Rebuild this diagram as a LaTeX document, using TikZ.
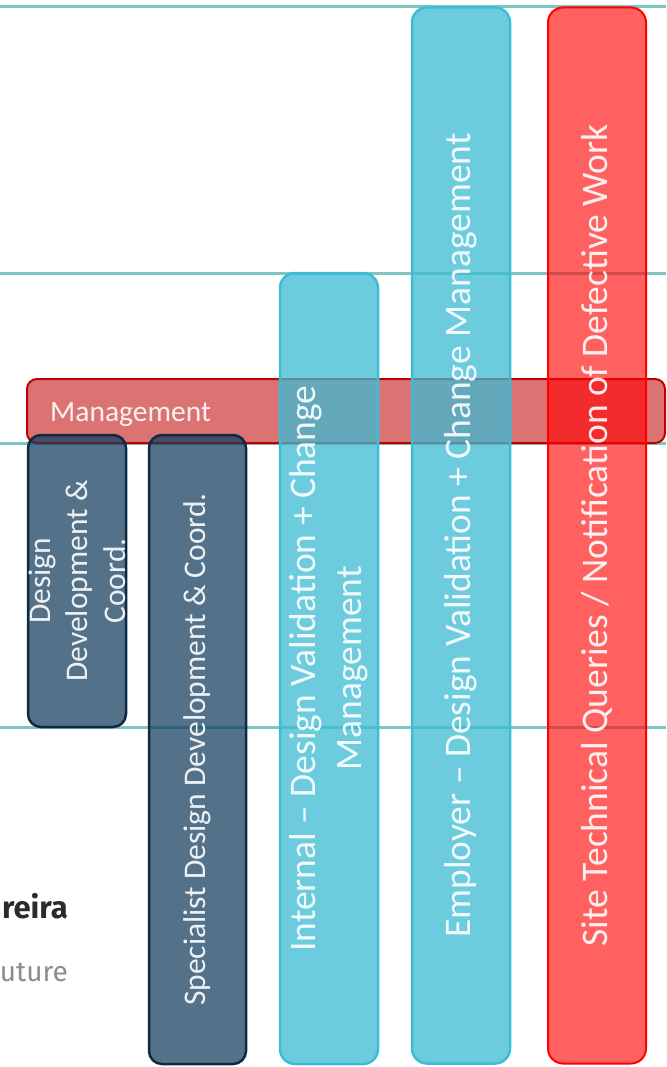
\documentclass[tikz,border=0pt]{standalone}
\usepackage{fontspec}
\setmainfont{Carlito}
\newfontfamily\logofont{Fira Sans}
\definecolor{rulecolor}{HTML}{7DC6C3}
\definecolor{mgmtcol}{HTML}{C00000}
\definecolor{bluefill}{HTML}{3BBBD3}
\definecolor{blueedge}{HTML}{3DBCD6}
\definecolor{darkfill}{HTML}{113C5C}
\definecolor{darkedge}{HTML}{0E2A42}
\definecolor{redcol}{HTML}{FF0000}
\definecolor{logodark}{HTML}{2B2B2B}
\definecolor{logogray}{HTML}{8C8C8C}
\begin{document}
\begin{tikzpicture}[x=1pt,y=-1pt,
  box/.style={rectangle, rounded corners=15pt, inner sep=0pt, outer sep=0pt, line width=2pt},
  mgmtbox/.style={box, rounded corners=10pt, draw=mgmtcol, fill=mgmtcol, fill opacity=0.55},
  bluebox/.style={box, line width=2.5pt, draw=blueedge, fill=bluefill, fill opacity=0.75},
  darkbox/.style={box, rounded corners=13pt, line width=2.5pt, draw=darkedge, fill=darkfill, fill opacity=0.72},
  redbox/.style={box, draw=redcol, fill=redcol, fill opacity=0.62},
  vlabel/.style={rotate=90, text=white, text opacity=0.9, align=center, inner sep=0pt},
  biglabel/.style={vlabel, font=\fontsize{37.5}{46}\selectfont},
  midlabel/.style={vlabel, font=\fontsize{31.5}{37.5}\selectfont},
  rule/.style={draw=rulecolor, line width=3pt}
]
\useasboundingbox (0,0) rectangle (666,1067);

% horizontal swim-lane rules
\coordinate (r1w) at (0,7);   \coordinate (r1e) at (666,7);
\coordinate (r2w) at (0,273); \coordinate (r2e) at (666,273);
\coordinate (r3w) at (0,443); \coordinate (r3e) at (666,443);
\coordinate (r4w) at (0,727); \coordinate (r4e) at (666,727);
\draw[rule] (r1w) -- (r1e);
\draw[rule] (r2w) -- (r2e);
\draw[rule] (r3w) -- (r3e);
\draw[rule] (r4w) -- (r4e);

% logo fragments at the lower left
\node[anchor=base east, inner sep=0pt, font=\logofont\bfseries\fontsize{31}{33}\selectfont, text=logodark] (logoa) at (68,918) {reira};
\node[anchor=base east, inner sep=0pt, font=\logofont\fontsize{28}{30}\selectfont, text=logogray] (logob) at (68,981) {uture};

% management band
\node[mgmtbox, minimum width=638pt, minimum height=64pt] (mgmt) at (346,411) {};
\node[anchor=base west, inner sep=0pt, text=white, text opacity=0.9, font=\fontsize{29.5}{35}\selectfont] (mgmtlabel) at (50,421) {Management};

% vertical activity bars
\node[darkbox, minimum width=98pt, minimum height=292pt] (ddc) at (77,581) {};
\node[darkbox, minimum width=97pt, minimum height=629pt] (sddc) at (197.5,749.5) {};
\node[bluebox, minimum width=98pt, minimum height=791pt] (idv) at (329,668.5) {};
\node[bluebox, minimum width=98pt, minimum height=1056pt] (edv) at (461,535.5) {};
\node[redbox, minimum width=98pt, minimum height=1056pt] (stq) at (597,535.5) {};

% bar labels
\node[midlabel] (ddclabel) at (ddc.center) {Design\\Development \&\\Coord.};
\node[midlabel] (sddclabel) at (sddc.center) {Specialist Design Development \& Coord.};
\node[biglabel] (idvlabel) at (idv.center) {Internal – Design Validation + Change\\Management};
\node[biglabel] (edvlabel) at (edv.center) {Employer – Design Validation + Change Management};
\node[biglabel] (stqlabel) at (stq.center) {Site Technical Queries / Notification of Defective Work};
\end{tikzpicture}
\end{document}
